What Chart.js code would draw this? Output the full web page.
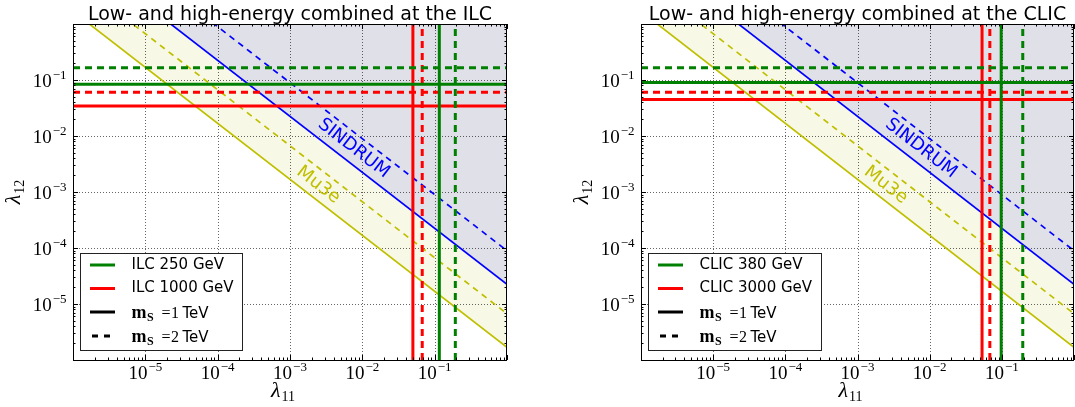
<!DOCTYPE html>
<html>
<head>
<meta charset="utf-8">
<script src="https://cdn.jsdelivr.net/npm/chart.js@4.4.0/dist/chart.umd.min.js"></script>
<style>
  body { margin: 0; background: #fff; width: 1075px; height: 407px; overflow: hidden; position: relative; }
  .panel { position: absolute; top: 0; height: 407px; }
</style>
</head>
<body>
<div class="panel" style="left:0;width:537px"><canvas id="ilc"></canvas></div>
<div class="panel" style="left:537px;width:538px"><canvas id="clic"></canvas></div>
<script>
// lambda11 at the two ends of the diagonal bounds
const lam11Ends = [1e-6, 1];
// low-energy bounds (lambda12 at lam11Ends)
const sindrumTeV1 = [22.4, 2.24e-5];
const sindrumTeV2 = [89.6, 8.96e-5];
const mu3eTeV1 = [1.68, 1.68e-6];
const mu3eTeV2 = [6.7, 6.7e-6];

// collider bounds: [low-energy stage, high-energy stage]
const ilcStages = ['ILC 250 GeV', 'ILC 1000 GeV'];
const ilcLam11TeV1 = [0.116, 0.050];
const ilcLam11TeV2 = [0.193, 0.0673];
const ilcLam12TeV1 = [0.0838, 0.0343];
const ilcLam12TeV2 = [0.166, 0.0602];

const clicStages = ['CLIC 380 GeV', 'CLIC 3000 GeV'];
const clicLam11TeV1 = [0.098, 0.0532];
const clicLam11TeV2 = [0.195, 0.0682];
const clicLam12TeV1 = [0.0898, 0.0447];
const clicLam12TeV2 = [0.166, 0.0602];

const decades = [-6, -5, -4, -3, -2, -1, 0];
const labelledDecades = [-5, -4, -3, -2, -1];

const GREEN = '#008000', RED = '#ff0000', BLUE = '#0000ff', YELLOW = '#bfbf00';
const stageColors = [GREEN, RED];
const thickDash = [7, 5];
const thinDash = [6, 5];
const SANS = '"DejaVu Sans", sans-serif';
const SERIF = '"Liberation Serif", serif';

// where the rotated bound names sit (data coords)
const textAt = { SINDRUM: [7.6e-3, 6.0e-3], Mu3e: [2.46e-3, 1.33e-3] };

function pts(xs, ys) { return xs.map((x, i) => ({ x: x, y: ys[i] })); }
function hline(v) { return [{ x: 1e-6, y: v }, { x: 1, y: v }]; }
function vline(v) { return [{ x: v, y: 1e-6 }, { x: v, y: 1 }]; }

function buildDatasets(l11a, l11b, l12a, l12b) {
  const common = { pointRadius: 0, clip: 0, borderCapStyle: 'butt' };
  const ds = [
    { ...common, data: pts(lam11Ends, sindrumTeV1), borderColor: BLUE, borderWidth: 1.7,
      fill: 'end', backgroundColor: 'rgb(224,224,232)', order: 5 },
    { ...common, data: pts(lam11Ends, mu3eTeV1), borderColor: YELLOW, borderWidth: 1.7,
      fill: 0, backgroundColor: 'rgb(248,248,231)', order: 5 },
    { ...common, data: pts(lam11Ends, sindrumTeV2), borderColor: BLUE, borderWidth: 1.7,
      borderDash: thinDash, fill: false, order: 5 },
    { ...common, data: pts(lam11Ends, mu3eTeV2), borderColor: YELLOW, borderWidth: 1.7,
      borderDash: thinDash, fill: false, order: 5 }
  ];
  [0, 1].forEach(k => {
    const c = stageColors[k];
    ds.push({ ...common, data: hline(l12a[k]), borderColor: c, borderWidth: 3, fill: false, order: 1 });
    ds.push({ ...common, data: vline(l11a[k]), borderColor: c, borderWidth: 3, fill: false, order: 1 });
    ds.push({ ...common, data: hline(l12b[k]), borderColor: c, borderWidth: 3, borderDash: thickDash, fill: false, order: 1 });
    ds.push({ ...common, data: vline(l11b[k]), borderColor: c, borderWidth: 3, borderDash: thickDash, fill: false, order: 1 });
  });
  return ds;
}

// 10^{e} drawn as math-like text
function powWidth(ctx, e) {
  ctx.font = '19px ' + SERIF;
  const wb = ctx.measureText('10').width;
  ctx.font = '13px ' + SERIF;
  return wb + 1 + ctx.measureText('\u2212' + Math.abs(e)).width;
}
function drawPow(ctx, e, x, base) {
  ctx.textAlign = 'left';
  ctx.textBaseline = 'alphabetic';
  ctx.font = '19px ' + SERIF;
  ctx.fillText('10', x, base);
  const wb = ctx.measureText('10').width;
  ctx.font = '13px ' + SERIF;
  ctx.fillText('\u2212' + Math.abs(e), x + wb + 1, base - 8);
}
function drawLambda(ctx, sub, cx, base) {
  ctx.textBaseline = 'alphabetic';
  ctx.textAlign = 'left';
  ctx.font = 'italic 22px ' + SERIF;
  const wl = ctx.measureText('\u03bb').width;
  ctx.font = '14px ' + SERIF;
  const ws = ctx.measureText(sub).width;
  const x0 = cx - (wl + ws + 1) / 2;
  ctx.font = 'italic 22px ' + SERIF;
  ctx.fillText('\u03bb', x0, base);
  ctx.font = '14px ' + SERIF;
  ctx.fillText(sub, x0 + wl + 1, base + 4);
}

function makeExtras(title, stages) {
  return {
    id: 'extras',
    beforeDatasetsDraw(chart) {
      const { ctx, chartArea: a, scales: { x, y } } = chart;
      ctx.save();
      ctx.strokeStyle = 'rgba(0,0,0,0.6)';
      ctx.lineWidth = 1;
      ctx.setLineDash([1, 2]);
      labelledDecades.forEach(e => {
        const px = Math.round(x.getPixelForValue(Math.pow(10, e))) + 0.5;
        ctx.beginPath(); ctx.moveTo(px, a.top); ctx.lineTo(px, a.bottom); ctx.stroke();
        const py = Math.round(y.getPixelForValue(Math.pow(10, e))) + 0.5;
        ctx.beginPath(); ctx.moveTo(a.left, py); ctx.lineTo(a.right, py); ctx.stroke();
      });
      ctx.restore();
    },
    afterDatasetsDraw(chart) {
      const { ctx, chartArea: a, scales: { x, y } } = chart;
      ctx.save();
      // bound names along the diagonals
      const ang = Math.atan2(
        y.getPixelForValue(sindrumTeV1[1]) - y.getPixelForValue(sindrumTeV1[0]),
        x.getPixelForValue(lam11Ends[1]) - x.getPixelForValue(lam11Ends[0]));
      [['SINDRUM', BLUE], ['Mu3e', YELLOW]].forEach(([t, c]) => {
        ctx.save();
        ctx.translate(x.getPixelForValue(textAt[t][0]), y.getPixelForValue(textAt[t][1]));
        ctx.rotate(ang);
        ctx.fillStyle = c;
        ctx.font = '18px ' + SANS;
        ctx.textAlign = 'center';
        ctx.textBaseline = 'middle';
        ctx.fillText(t, 0, 0);
        ctx.restore();
      });
      // frame
      ctx.strokeStyle = '#000';
      ctx.lineWidth = 1;
      ctx.strokeRect(Math.round(a.left) + 0.5, Math.round(a.top) + 0.5,
        Math.round(a.right) - Math.round(a.left) - 1, Math.round(a.bottom) - Math.round(a.top));
      // ticks, inward on all sides
      const tick = (v, len) => {
        const px = Math.round(x.getPixelForValue(v)) + 0.5;
        ctx.beginPath();
        ctx.moveTo(px, a.bottom); ctx.lineTo(px, a.bottom - len);
        ctx.moveTo(px, a.top); ctx.lineTo(px, a.top + len);
        ctx.stroke();
        const py = Math.round(y.getPixelForValue(v)) + 0.5;
        ctx.beginPath();
        ctx.moveTo(a.left, py); ctx.lineTo(a.left + len, py);
        ctx.moveTo(a.right, py); ctx.lineTo(a.right - len, py);
        ctx.stroke();
      };
      decades.forEach(e => {
        tick(Math.pow(10, e), 5);
        if (e < 0) for (let m = 2; m <= 9; m++) tick(m * Math.pow(10, e), 2.5);
      });
      // tick labels
      ctx.fillStyle = '#000';
      labelledDecades.forEach(e => {
        const px = x.getPixelForValue(Math.pow(10, e));
        drawPow(ctx, e, px - powWidth(ctx, e) / 2, a.bottom + 19);
        const py = y.getPixelForValue(Math.pow(10, e));
        drawPow(ctx, e, a.left - 6.5 - powWidth(ctx, e), py + 6.5);
      });
      // axis titles
      drawLambda(ctx, '11', (a.left + a.right) / 2 - 7, 397);
      ctx.save();
      ctx.translate(a.left - 59, (a.top + a.bottom) / 2);
      ctx.rotate(-Math.PI / 2);
      drawLambda(ctx, '12', 0, 6);
      ctx.restore();
      // title
      ctx.font = '19px ' + SANS;
      ctx.textAlign = 'center';
      ctx.textBaseline = 'alphabetic';
      ctx.fillText(title, (a.left + a.right) / 2, 19.5);
      ctx.restore();
    },
    afterDraw(chart) {
      const { ctx, chartArea: a } = chart;
      ctx.save();
      ctx.font = '15px ' + SANS;
      const tw = Math.max(...stages.map(s => ctx.measureText(s).width));
      const bx = Math.round(a.left + 7) + 0.5, by = 253.5, bw = Math.round(51 + tw + 9), bh = 97;
      ctx.fillStyle = '#fff';
      ctx.fillRect(bx, by, bw, bh);
      ctx.strokeStyle = '#222';
      ctx.lineWidth = 1;
      ctx.strokeRect(bx, by, bw, bh);
      const rows = [265, 288.5, 312, 336];
      const lx0 = bx + 9.5, lx1 = bx + 34.5, tx = bx + 51;
      ctx.lineWidth = 3;
      rows.forEach((ry, i) => {
        ctx.strokeStyle = i < 2 ? stageColors[i] : '#000';
        ctx.setLineDash(i === 3 ? [6, 6] : []);
        ctx.beginPath();
        ctx.moveTo(i === 3 ? lx0 + 2 : lx0, ry);
        ctx.lineTo(lx1, ry);
        ctx.stroke();
      });
      ctx.setLineDash([]);
      ctx.fillStyle = '#000';
      ctx.textAlign = 'left';
      ctx.textBaseline = 'middle';
      ctx.font = '15px ' + SANS;
      ctx.fillText(stages[0], tx, rows[0]);
      ctx.fillText(stages[1], tx, rows[1]);
      ['1', '2'].forEach((m, k) => {
        const ry = rows[2 + k];
        ctx.textBaseline = 'alphabetic';
        ctx.font = 'bold 18px ' + SERIF;
        ctx.fillText('m', tx, ry + 5.5);
        const wm = ctx.measureText('m').width;
        ctx.font = 'bold 12px ' + SERIF;
        ctx.fillText('S', tx + wm + 0.5, ry + 9);
        ctx.font = '16px ' + SERIF;
        ctx.fillText('=', tx + 30, ry + 5.5);
        ctx.fillText(m, tx + 30 + ctx.measureText('=').width + 0.5, ry + 5.5);
        ctx.font = '15px ' + SANS;
        ctx.fillText('TeV', tx + 51, ry + 5.5);
      });
      ctx.restore();
    }
  };
}

function makePanel(id, title, stages, l11a, l11b, l12a, l12b, padding) {
  return new Chart(document.getElementById(id), {
    type: 'line',
    data: { datasets: buildDatasets(l11a, l11b, l12a, l12b) },
    options: {
      responsive: true,
      maintainAspectRatio: false,
      animation: false,
      events: [],
      layout: { padding: padding },
      scales: {
        x: { type: 'logarithmic', min: 1e-6, max: 1, display: false },
        y: { type: 'logarithmic', min: 1e-6, max: 1, display: false }
      },
      elements: { line: { tension: 0 }, point: { radius: 0 } },
      plugins: {
        legend: { display: false },
        tooltip: { enabled: false },
        filler: { drawTime: 'beforeDatasetsDraw' }
      }
    },
    plugins: [makeExtras(title, stages)]
  });
}

makePanel('ilc', 'Low- and high-energy combined at the ILC', ilcStages,
  ilcLam11TeV1, ilcLam11TeV2, ilcLam12TeV1, ilcLam12TeV2,
  { left: 73, right: 30, top: 24, bottom: 47 });
makePanel('clic', 'Low- and high-energy combined at the CLIC', clicStages,
  clicLam11TeV1, clicLam11TeV2, clicLam12TeV1, clicLam12TeV2,
  { left: 104, right: 1, top: 24, bottom: 47 });
</script>
</body>
</html>
